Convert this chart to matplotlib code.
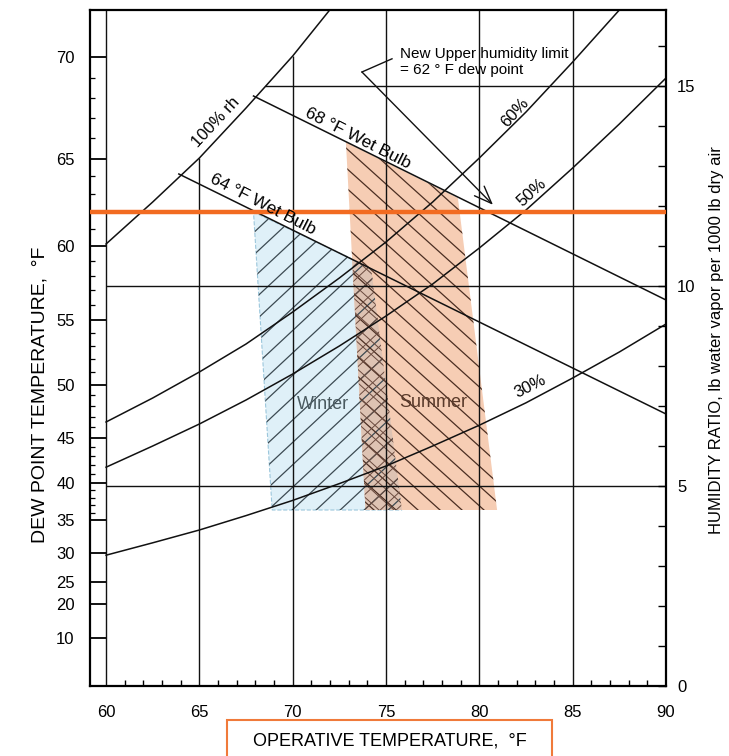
import numpy as np
import matplotlib.pyplot as plt
from matplotlib.patches import Polygon, Rectangle

plt.rcParams['font.family'] = ['Liberation Sans', 'DejaVu Sans']

# operative temperature (F) and humidity ratio (lb per 1000 lb dry air)
temps = [60, 62.5, 65, 67.5, 70, 72.5, 75, 77.5, 80, 82.5, 85, 87.5, 90]
rh100 = [11.05, 12.1, 13.2, 14.45, 15.75, 17.2]
rh60 = [6.6, 7.2, 7.85, 8.55, 9.35, 10.2, 11.1, 12.1, 13.2, 14.35, 15.6, 16.9, 18.35]
rh50 = [5.47, 6.0, 6.55, 7.15, 7.8, 8.5, 9.25, 10.05, 10.95, 11.9, 12.95, 14.05, 15.2]
rh30 = [3.27, 3.58, 3.9, 4.26, 4.64, 5.06, 5.5, 6.0, 6.52, 7.08, 7.7, 8.35, 9.05]

wb68_t = [67.9, 90]
wb68_w = [14.75, 9.65]
wb64_t = [63.9, 90]
wb64_w = [12.8, 6.8]

winter_t = [67.9, 74.2, 75.85, 68.9]
winter_w = [11.85, 10.45, 4.4, 4.4]
summer_t = [72.85, 78.85, 80.95, 73.9]
summer_w = [13.6, 12.2, 4.4, 4.4]

dew_limit_w = 11.85   # 62 F dew point

dp_labels = [70, 65, 60, 55, 50, 45, 40, 35, 30, 25, 20, 10]
dp_w = [15.72, 13.18, 11.0, 9.15, 7.53, 6.2, 5.08, 4.15, 3.33, 2.6, 2.05, 1.2]

hr_ticks = list(range(0, 17))

fig = plt.figure(figsize=(7.29, 7.56), dpi=100)
ax = fig.add_axes([90 / 729, 70 / 756, 576 / 729, 676 / 756])
ax.set_xlim(59.14, 90)
ax.set_ylim(0, 16.9)

# pixels per data unit, used for the hatch lines
sx = 576 / (90 - 59.14)
sy = 676 / 16.9


def hatch(clip, angle, spacing, color, lw=0.9):
    # parallel lines at a pixel angle, spacing in pixels, clipped to a patch
    m = np.tan(np.radians(angle)) * sx / sy
    step = spacing / sx
    for c in np.arange(20, 130, step):
        ln, = ax.plot([50, 100], [m * (50 - c), m * (100 - c)], color=color,
                      lw=lw, zorder=1.5)
        ln.set_clip_path(clip)


def clip_poly(subject, clipper):
    # Sutherland-Hodgman, both polygons convex
    area = sum(a[0] * b[1] - b[0] * a[1] for a, b in zip(clipper, clipper[1:] + clipper[:1]))
    if area < 0:
        clipper = clipper[::-1]

    def side(p, a, b):
        return (b[0] - a[0]) * (p[1] - a[1]) - (b[1] - a[1]) * (p[0] - a[0])

    def cross(p, q, a, b):
        sp, sq = side(p, a, b), side(q, a, b)
        f = sp / (sp - sq)
        return (p[0] + f * (q[0] - p[0]), p[1] + f * (q[1] - p[1]))

    out = list(subject)
    for a, b in zip(clipper, clipper[1:] + clipper[:1]):
        pts, out = out, []
        for p, q in zip(pts, pts[1:] + pts[:1]):
            if side(q, a, b) >= 0:
                if side(p, a, b) < 0:
                    out.append(cross(p, q, a, b))
                out.append(q)
            elif side(p, a, b) >= 0:
                out.append(cross(p, q, a, b))
    return out


# comfort zones
winter_pts = list(zip(winter_t, winter_w))
summer_pts = list(zip(summer_t, summer_w))
winter = Polygon(winter_pts, closed=True, facecolor='#dff0f8',
                 edgecolor='#9cc7dc', lw=0.8, ls='--', zorder=1)
summer = Polygon(summer_pts, closed=True, facecolor='#f6cdb4',
                 edgecolor='none', zorder=1.1)
both = Polygon(clip_poly(winter_pts, summer_pts), closed=True, facecolor='#dec3b3',
               edgecolor='none', zorder=1.2)
ax.add_patch(winter)
ax.add_patch(summer)
ax.add_patch(both)

hatch(winter, 43, 24, '#3c4a52')
hatch(summer, -42, 22, '#4b2e22')
hatch(both, 43, 16, '#6a4a3e', lw=0.7)
hatch(both, -42, 15, '#6a4a3e', lw=0.7)

# grid of the chart
lc = '#111111'
ax.axvline(60, color=lc, lw=1.0, zorder=2)
ax.vlines(65, 0, rh100[temps.index(65)], color=lc, lw=1.0, zorder=2)
ax.vlines(70, 0, rh100[temps.index(70)], color=lc, lw=1.0, zorder=2)
for t in [75, 80, 85]:
    ax.axvline(t, color=lc, lw=1.0, zorder=2)
ax.hlines(15, 68.5, 90, color=lc, lw=1.0, zorder=2)
ax.hlines([10, 5], 60, 90, color=lc, lw=1.0, zorder=2)

# rh curves and wet bulb lines
ax.plot(temps[:len(rh100)], rh100, color=lc, lw=1.1, zorder=2)
ax.plot(temps, rh60, color=lc, lw=1.1, zorder=2)
ax.plot(temps, rh50, color=lc, lw=1.1, zorder=2)
ax.plot(temps, rh30, color=lc, lw=1.1, zorder=2)
ax.plot(wb68_t, wb68_w, color=lc, lw=1.1, zorder=2)
ax.plot(wb64_t, wb64_w, color=lc, lw=1.1, zorder=2)

ax.hlines(dew_limit_w, 59.14, 90, color='#f26b21', lw=3.2, zorder=3)

# labels on the curves
ax.text(65.9, 14.1, '100% rh', rotation=47, fontsize=12, ha='center', va='center', zorder=4)
ax.text(73.47, 13.69, '68 °F Wet Bulb', rotation=-27, fontsize=12.5, ha='center', va='center', zorder=4)
ax.text(68.41, 12.03, '64 °F Wet Bulb', rotation=-27, fontsize=12.5, ha='center', va='center', zorder=4)
ax.text(81.9, 14.33, '60%', rotation=48, fontsize=12, ha='center', va='center', zorder=4)
ax.text(82.82, 12.33, '50%', rotation=42, fontsize=12, ha='center', va='center', zorder=4)
ax.text(82.71, 7.48, '30%', rotation=27, fontsize=12, ha='center', va='center', zorder=4)
ax.text(71.62, 7.03, 'Winter', fontsize=13, color='#4a5a60', ha='center', va='center', zorder=4)
ax.text(77.51, 7.08, 'Summer', fontsize=13, color='#5a3a2a', ha='center', va='center', zorder=4)

# note about the new humidity limit
ax.text(75.75, 15.6, 'New Upper humidity limit\n= 62 ° F dew point', fontsize=11,
        family=['Liberation Sans Narrow', 'Liberation Sans'], ha='left', va='center',
        linespacing=1.15, zorder=4)
ax.plot([75.32, 73.71], [15.68, 15.35], color=lc, lw=1.0, zorder=4)
ax.annotate('', xy=(80.73, 12.03), xytext=(73.71, 15.35),
            arrowprops=dict(arrowstyle='->,head_length=0.9,head_width=0.35',
                            color=lc, lw=1.0, mutation_scale=14, shrinkA=0, shrinkB=0),
            zorder=4)

# axes, ticks
for s in ax.spines.values():
    s.set_linewidth(1.6)
ax.set_xticks(range(60, 91, 5))
ax.set_xticks([t for t in range(61, 90) if t % 5], minor=True)
ax.tick_params(axis='x', which='major', length=0, pad=14, labelsize=12)
ax.tick_params(axis='x', which='minor', direction='in', length=4.5, width=1.0)
ax.set_yticks(dp_w)
ax.set_yticklabels([str(d) for d in dp_labels])
ax.tick_params(axis='y', which='major', direction='in', length=11.5, width=1.3,
               pad=11, labelsize=12)
minor_dp = []
for hi, lo in zip(dp_w[:7], dp_w[1:8]):
    step = (hi - lo) / 5
    minor_dp += [lo + step * k for k in range(1, 5)]
ax.set_yticks(minor_dp, minor=True)
ax.tick_params(axis='y', which='minor', direction='in', length=3.5, width=0.9)

ax2 = ax.twinx()
ax2.set_ylim(ax.get_ylim())
ax2.set_yticks(hr_ticks)
ax2.set_yticklabels([str(v) if v % 5 == 0 else '' for v in hr_ticks])
ax2.tick_params(axis='y', direction='in', length=6, width=1.0, pad=8, labelsize=12)
for s in ax2.spines.values():
    s.set_visible(False)

# axis titles
fig.text(40 / 729, 1 - 395 / 756, 'DEW POINT TEMPERATURE,  °F', rotation=90,
         fontsize=14, ha='center', va='center')
fig.text(716 / 729, 1 - 340 / 756, 'HUMIDITY RATIO, lb water vapor per 1000 lb dry air',
         rotation=90, fontsize=12, ha='center', va='center')
fig.patches.append(Rectangle((227 / 729, -0.02), 325 / 729, 0.0676,
                             transform=fig.transFigure, fill=False,
                             edgecolor='#f07a3a', lw=1.5))
fig.text(389.5 / 729, 1 - 741 / 756, 'OPERATIVE TEMPERATURE,  °F', fontsize=13,
         ha='center', va='center')

fig.savefig('out.png', dpi=100)
